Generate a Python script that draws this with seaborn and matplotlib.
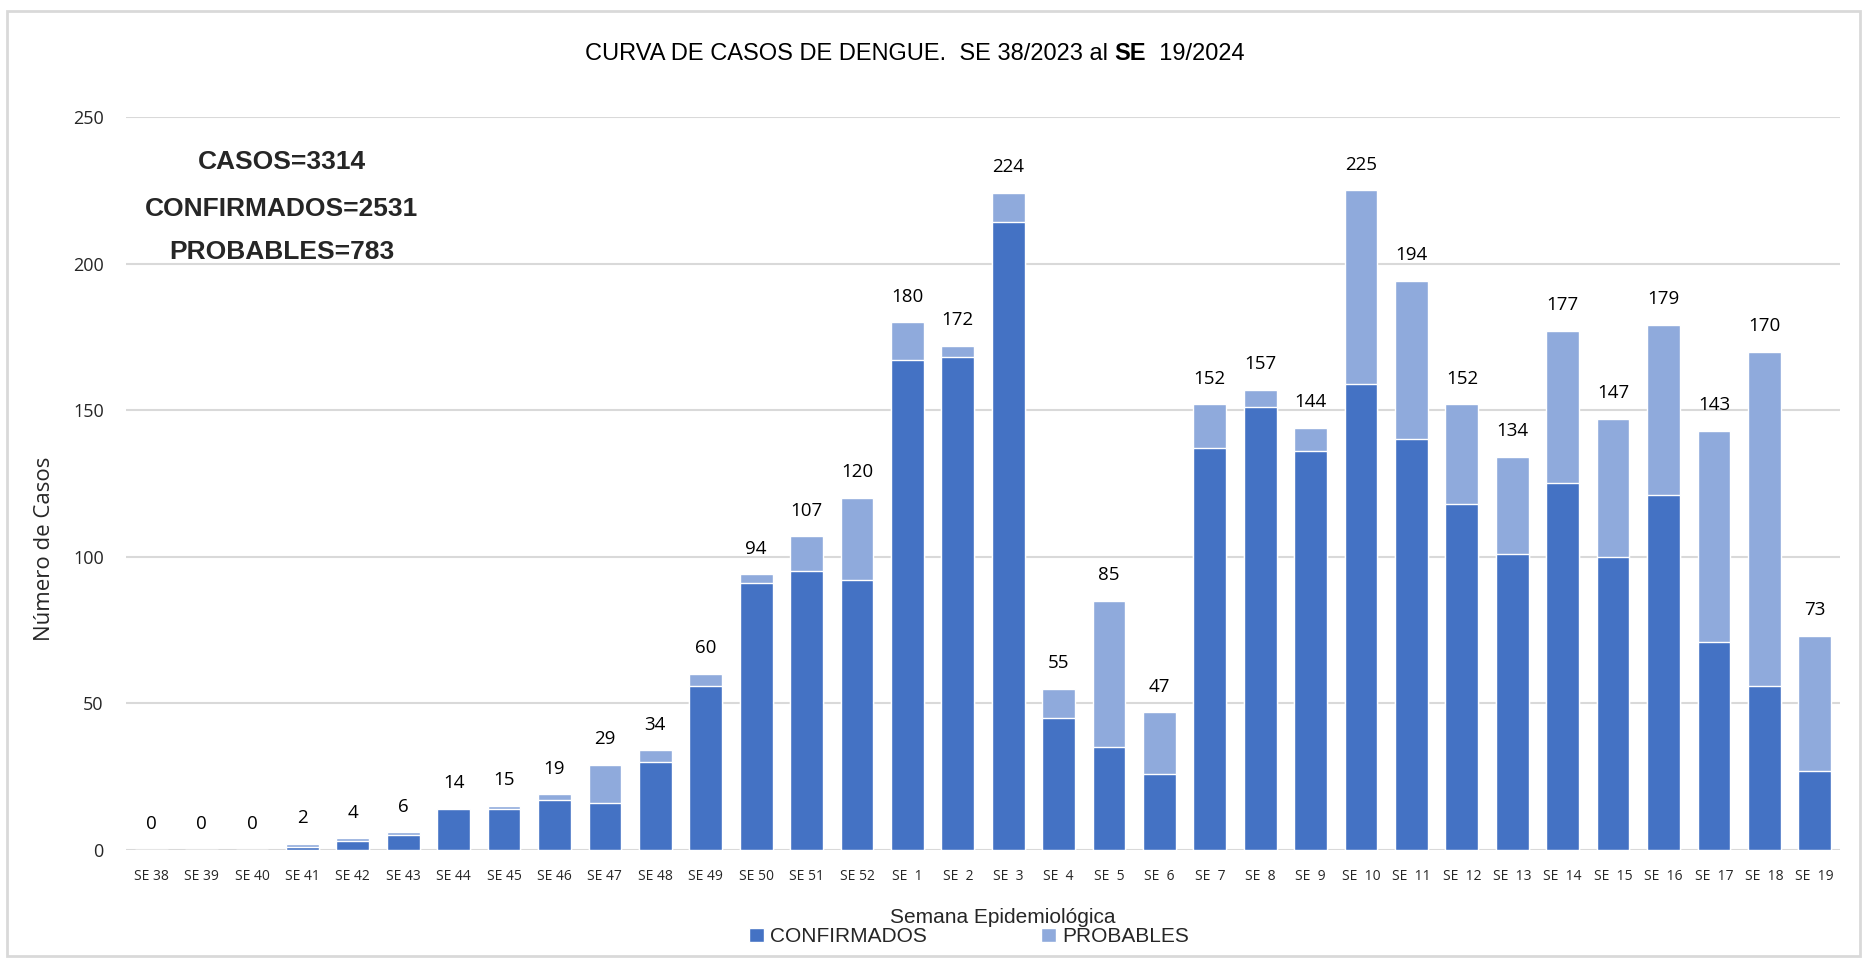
import pandas as pd
import matplotlib.pyplot as plt
import seaborn as sns
from matplotlib.patches import Rectangle
from matplotlib.offsetbox import TextArea, HPacker, AnchoredOffsetbox

# Data
semanas = ["SE 38", "SE 39", "SE 40", "SE 41", "SE 42", "SE 43", "SE 44", "SE 45",
           "SE 46", "SE 47", "SE 48", "SE 49", "SE 50", "SE 51", "SE 52",
           "SE  1", "SE  2", "SE  3", "SE  4", "SE  5", "SE  6", "SE  7", "SE  8",
           "SE  9", "SE  10", "SE  11", "SE  12", "SE  13", "SE  14", "SE  15",
           "SE  16", "SE  17", "SE  18", "SE  19"]
totales = [0, 0, 0, 2, 4, 6, 14, 15, 19, 29, 34, 60, 94, 107, 120,
           180, 172, 224, 55, 85, 47, 152, 157, 144, 225, 194, 152, 134,
           177, 147, 179, 143, 170, 73]
confirmados = [0, 0, 0, 1, 3, 5, 14, 14, 17, 16, 30, 56, 91, 95, 92,
               167, 168, 214, 45, 35, 26, 137, 151, 136, 159, 140, 118, 101,
               125, 100, 121, 71, 56, 27]
probables = [t - c for t, c in zip(totales, confirmados)]

df = pd.DataFrame({"semana": semanas, "total": totales,
                   "confirmados": confirmados, "probables": probables})

color_conf = "#4472C4"
color_prob = "#8FAADC"

sns.set_style("white")
plt.rcParams["font.family"] = ["Open Sans", "DejaVu Sans"]
narrow = ["Liberation Sans Narrow", "Liberation Sans", "DejaVu Sans"]

fig = plt.figure(figsize=(18.67, 9.6), dpi=100)
ax = fig.add_axes([0.0675, 0.1146, 0.918, 0.7636])

# stacked bars: total (light) underneath, confirmed (dark) on top of it
sns.barplot(data=df, x="semana", y="total", color=color_prob, saturation=1,
            width=0.65, ax=ax, label="PROBABLES")
sns.barplot(data=df, x="semana", y="confirmados", color=color_conf, saturation=1,
            width=0.65, ax=ax, label="CONFIRMADOS")

ax.bar_label(ax.containers[0], labels=[str(v) for v in totales], padding=12,
             fontsize=13.5, color="#000000")

ax.set_ylim(0, 250)
ax.set_xlim(-0.5, len(semanas) - 0.5)
ax.set_yticks([0, 50, 100, 150, 200, 250])
ax.yaxis.grid(True, color="#D9D9D9", linewidth=1.5)
ax.set_axisbelow(True)
for s in ax.spines.values():
    s.set_visible(False)
ax.tick_params(axis="x", length=0, pad=14, labelsize=10)
ax.tick_params(axis="y", length=0, pad=16, labelsize=13)
ax.set_xlabel("")
ax.set_ylabel("")

# annotation with totals
for txt, yv in [("CASOS=3314", 234.5), ("CONFIRMADOS=2531", 218.5), ("PROBABLES=783", 204)]:
    ax.text(0.091, yv, txt, transform=ax.get_yaxis_transform(), ha="center",
            va="center", fontsize=19, fontweight="bold", family=narrow)

# title with bold "SE"
tprops = {"fontsize": 17, "family": narrow, "color": "#000000"}
parts = [TextArea("CURVA DE CASOS DE DENGUE.  SE 38/2023 al ", textprops=tprops),
         TextArea("SE", textprops={**tprops, "fontweight": "bold"}),
         TextArea("  19/2024", textprops=tprops)]
title_box = HPacker(children=parts, align="baseline", pad=0, sep=0)
anchored = AnchoredOffsetbox(loc="center", child=title_box, pad=0, frameon=False,
                             bbox_to_anchor=(0.49, 0.944), bbox_transform=fig.transFigure,
                             borderpad=0)
fig.add_artist(anchored)

fig.text(0.024, 0.428, "Número de Casos", rotation=90, ha="center", va="center",
         fontsize=16)
fig.text(0.537, 0.044, "Semana Epidemiológica", ha="center", va="center",
         fontsize=15, family=narrow)

handles, labels = ax.get_legend_handles_labels()
order = [labels.index("CONFIRMADOS"), labels.index("PROBABLES")]
fig.legend([handles[i] for i in order], [labels[i] for i in order],
           loc="center", bbox_to_anchor=(0.519, 0.024), ncol=2, frameon=False,
           prop={"family": narrow, "size": 15}, handlelength=0.7, handleheight=0.7,
           handletextpad=0.3, columnspacing=5.5)
if ax.get_legend() is not None:
    ax.get_legend().remove()

# chart border
fig.patches.append(Rectangle((0.004, 0.004), 0.992, 0.985, transform=fig.transFigure,
                             fill=False, edgecolor="#D9D9D9", linewidth=2))

fig.savefig("out.png", dpi=100, facecolor="white")
